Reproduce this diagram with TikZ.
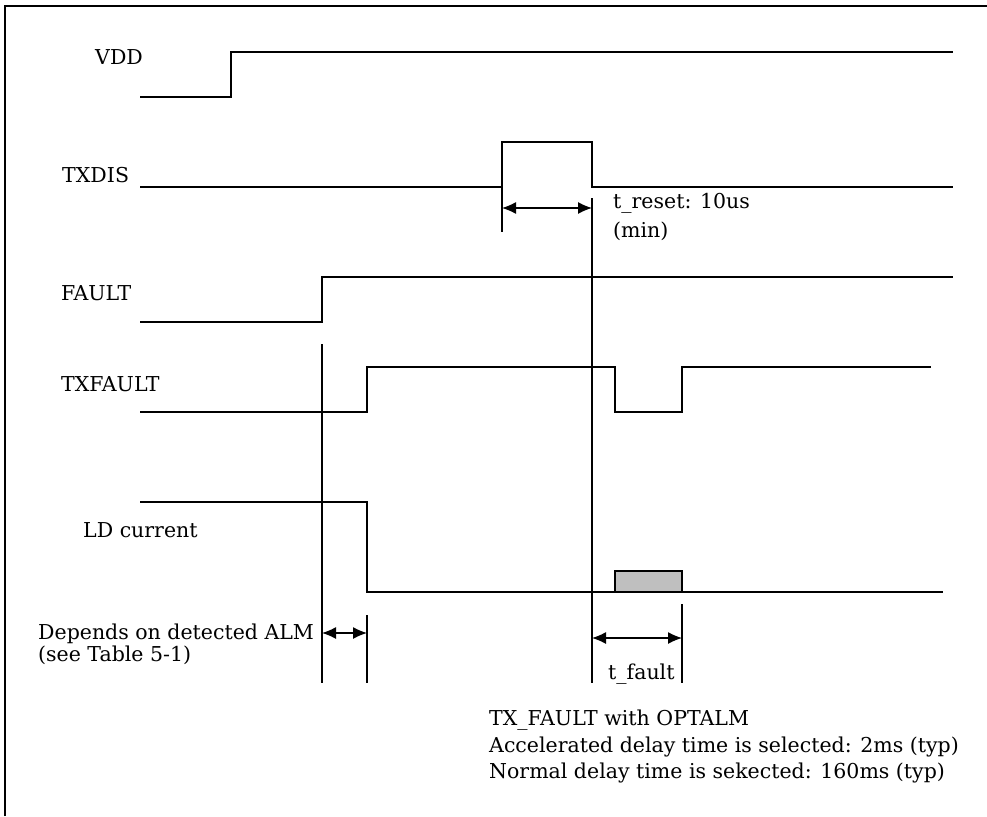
\documentclass[tikz,border=0pt]{standalone}
\usepackage{fontspec}
\setmainfont{DejaVu Serif}
\usetikzlibrary{arrows.meta}
\begin{document}
\begin{tikzpicture}[
  x=1pt, y=-1pt,
  font=\fontsize{20.5}{26.5}\selectfont,
  sig/.style={line width=1.4pt, line join=miter},
  tick/.style={line width=1.2pt},
  dim/.style={line width=1.2pt, {Latex[length=14pt,width=12pt]}-{Latex[length=14pt,width=12pt]}},
  lbl/.style={anchor=base west, inner sep=0pt}
]
\useasboundingbox (0,0) rectangle (987,816);
\draw[line width=1.5pt] (5,816) -- (5,6) -- (987,6);

\node[lbl] (vdd)     at (95,64)  {VDD};
\node[lbl] (txdis)   at (62,182) {TXDIS};
\node[lbl] (fault)   at (61,300) {FAULT};
\node[lbl] (txfault) at (61,391) {TXFAULT};
\node[lbl] (ldcur)   at (83,537) {LD current};

\draw[sig] (140,97) -- (231,97) -- (231,52) -- (953,52);
\draw[sig] (140,187) -- (502,187) -- (502,142) -- (592,142) -- (592,187) -- (953,187);
\draw[sig] (140,322) -- (322,322) -- (322,277) -- (953,277);
\draw[sig] (140,412) -- (367,412) -- (367,367) -- (615,367) -- (615,412)
  -- (682,412) -- (682,367) -- (931,367);
\draw[sig, fill=black!25] (615,592) rectangle (682,571);
\draw[sig] (140,502) -- (367,502) -- (367,592) -- (943,592);

\draw[tick] (502,187) -- (502,232);
\draw[tick] (592,198) -- (592,683);
\draw[tick] (322,344) -- (322,683);
\draw[tick] (367,615) -- (367,683);
\draw[tick] (682,604) -- (682,683);

\coordinate (rsa) at (502,208);
\coordinate (rsb) at (592,208);
\coordinate (ala) at (322,633);
\coordinate (alb) at (367,633);
\coordinate (fta) at (592,638);
\coordinate (ftb) at (682,638);
\draw[dim] (rsa) -- (rsb);
\draw[dim] (ala) -- (alb);
\draw[dim] (fta) -- (ftb);

\node[lbl] (treset)  at (613,208) {t\_reset: 10us};
\node[lbl] (tresmin) at (613,237) {(min)};
\node[lbl] (almnote) at (38,639)  {Depends on detected ALM};
\node[lbl] (almtab)  at (38,661)  {(see Table 5-1)};
\node[lbl] (tfault)  at (608,679) {t\_fault};
\node[lbl] (optalm)  at (489,725) {TX\_FAULT with OPTALM};
\node[lbl] (accel)   at (489,752) {Accelerated delay time is selected: 2ms (typ)};
\node[lbl] (normal)  at (489,778) {Normal delay time is sekected: 160ms (typ)};
\end{tikzpicture}
\end{document}
